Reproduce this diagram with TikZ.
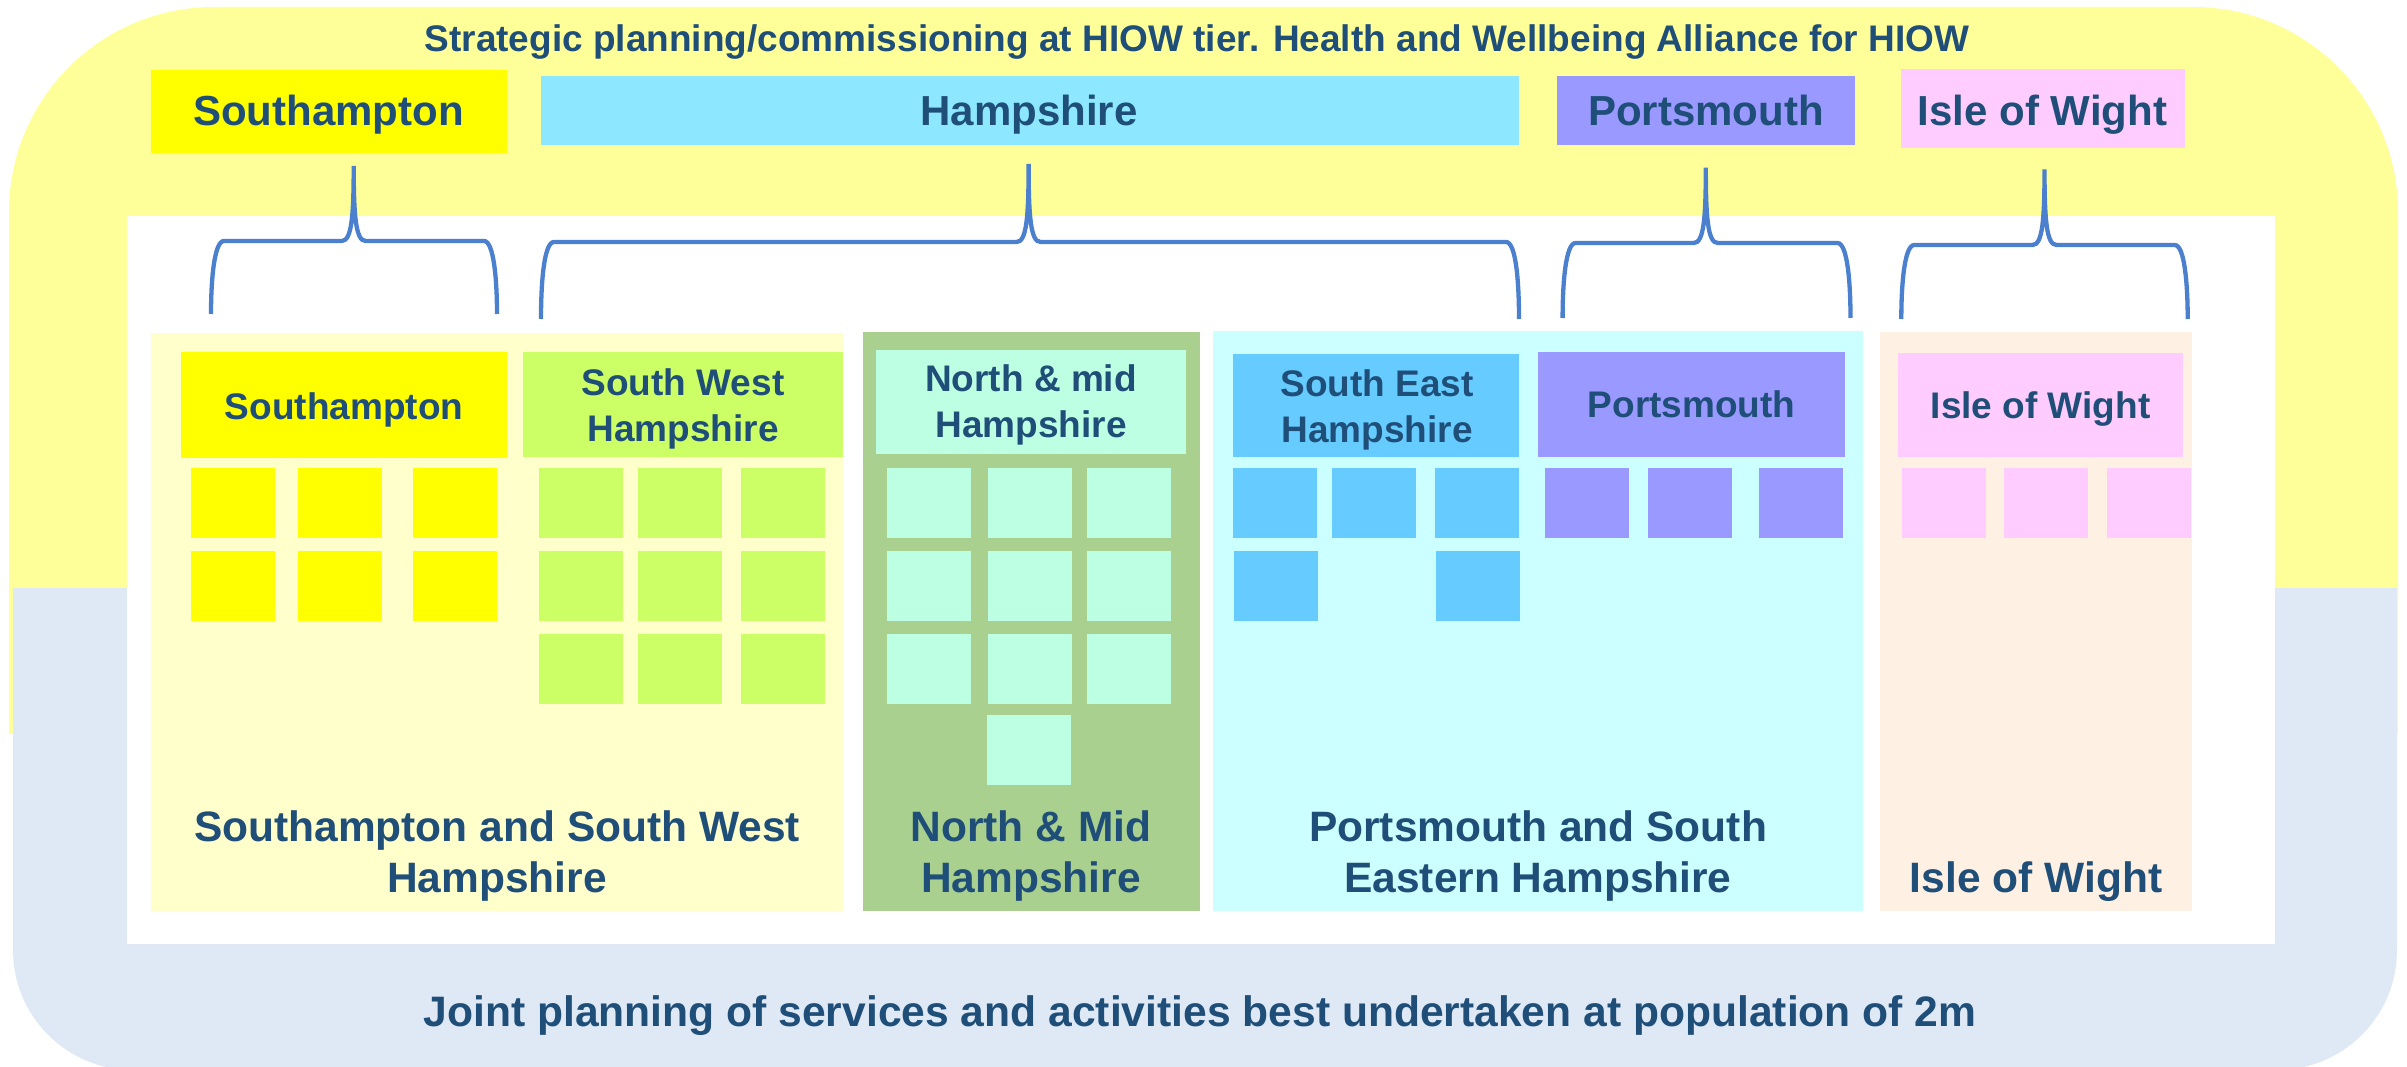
\documentclass[tikz,border=0pt]{standalone}
\usepackage{fontspec}
\setmainfont{Liberation Sans}
\definecolor{ybg}{HTML}{FFFF99}
\definecolor{bbg}{HTML}{DEE9F5}
\definecolor{txt}{HTML}{1F4E79}
\definecolor{brc}{HTML}{4A80CD}
\definecolor{cSo}{HTML}{FFFF00}
\definecolor{cHa}{HTML}{8DE7FF}
\definecolor{cPo}{HTML}{9999FF}
\definecolor{cIw}{HTML}{FFCCFF}
\definecolor{pSo}{HTML}{FFFFCC}
\definecolor{pNm}{HTML}{A9D08E}
\definecolor{pPo}{HTML}{CCFFFF}
\definecolor{pIw}{HTML}{FEF0E2}
\definecolor{cSw}{HTML}{CCFF66}
\definecolor{cNm}{HTML}{BDFFE3}
\definecolor{cSe}{HTML}{66CCFF}
\tikzset{
  box/.style={rectangle,inner sep=0pt,outer sep=0pt,draw=none},
  lab/.style={text=txt,anchor=base,align=center,inner sep=0pt},
  titlelab/.style={lab,font=\fontsize{37}{45}\selectfont\bfseries},
  toplab/.style={lab,font=\fontsize{42}{50}\selectfont\bfseries},
  sublab/.style={lab,font=\fontsize{37}{45.5}\selectfont\bfseries},
  panlab/.style={lab,font=\fontsize{42.5}{51}\selectfont\bfseries},
  bracestyle/.style={draw=brc,line width=4.3pt},
}
\newcommand{\boxnode}[6]{\node[box,fill=#2,minimum width={#5-#3},minimum height={#6-#4}] (#1) at ({(#3+#5)/2},{(#4+#6)/2}) {};}
\newcommand{\bracepath}[6]{% xl xr xt yh ytip ybot
  \draw[bracestyle] (#1,#6) .. controls (#1,#4+40) and (#1+3,#4) .. (#1+13,#4) -- (#3-12,#4)
    .. controls (#3-2,#4) and (#3,#4-25) .. (#3,#5)
    .. controls (#3,#4-25) and (#3+2,#4) .. (#3+12,#4) -- (#2-13,#4)
    .. controls (#2-3,#4) and (#2,#4+40) .. (#2,#6);}
\newcommand{\sqs}[3]{% color, y top, list of x
  \foreach \xx in {#3} {\fill[#1] (\xx,#2) rectangle ++(84,70);}}
\begin{document}
\begin{tikzpicture}[x=1pt,y=-1pt]
\useasboundingbox (0,0) rectangle (2407,1067);
% backgrounds
\begin{scope}
  \clip (0,0) rectangle (2407,733);
  \fill[ybg,rounded corners=205pt] (9,7) rectangle (2398,1000);
\end{scope}
\begin{scope}
  \clip (0,588) rectangle (2407,1067);
  \fill[bbg,rounded corners=120pt] (13,300) rectangle (2397,1070);
\end{scope}
\fill[white] (127,216) rectangle (2275,944);
% panels
\boxnode{panSo}{pSo}{151}{333}{843}{911}
\boxnode{panNm}{pNm}{863}{332}{1200}{911}
\boxnode{panPo}{pPo}{1213}{331}{1863}{911}
\boxnode{panIw}{pIw}{1880}{332}{2192}{911}
% top boxes
\boxnode{topSo}{cSo}{151}{70}{507}{153.5}
\boxnode{topHa}{cHa}{541}{76}{1519}{145}
\boxnode{topPo}{cPo}{1557}{76}{1855}{145}
\boxnode{topIw}{cIw}{1901}{69}{2185}{148}
% sub boxes
\boxnode{subSo}{cSo}{181}{352}{507}{458}
\boxnode{subSw}{cSw}{523}{352}{843}{456.5}
\boxnode{subNm}{cNm}{876}{350}{1186}{454}
\boxnode{subSe}{cSe}{1233}{354}{1519}{456.5}
\boxnode{subPo}{cPo}{1538}{352}{1845}{456.5}
\boxnode{subIw}{cIw}{1898}{353}{2183}{456.5}
% squares
\sqs{cSo}{468}{191,298,413}
\sqs{cSo}{551}{191,298,413}
\sqs{cSw}{468}{539,638,741}
\sqs{cSw}{551}{539,638,741}
\sqs{cSw}{634}{539,638,741}
\sqs{cNm}{468}{887,988,1087}
\sqs{cNm}{551}{887,988,1087}
\sqs{cNm}{634}{887,988,1087}
\sqs{cNm}{715}{987}
\sqs{cSe}{468}{1233,1332,1435}
\sqs{cSe}{551}{1234,1436}
\sqs{cPo}{468}{1545,1648,1759}
\sqs{cIw}{468}{1902,2004,2107}
% braces
\bracepath{211}{497}{353.7}{241}{166}{314}
\bracepath{541}{1519}{1028.6}{242}{164}{319}
\bracepath{1562.6}{1850.5}{1705.8}{243}{167.6}{318}
\bracepath{1901.3}{2187.7}{2044.5}{245}{169.5}{319}
% texts (multi-line nodes: base anchor is the last line's baseline)
\node[titlelab] (title) at (1197,52) {Strategic planning/commissioning at HIOW tier. Health and Wellbeing Alliance for HIOW};
\node[toplab] (tSo) at (328.5,126) {Southampton};
\node[toplab] (tHa) at (1029,126) {Hampshire};
\node[toplab] (tPo) at (1706,126) {Portsmouth};
\node[toplab] (tIw) at (2042.5,126) {Isle of Wight};
\node[sublab] (sSo) at (344,419) {Southampton};
\node[sublab] (sSw) at (683,441) {South West\\Hampshire};
\node[sublab] (sNm) at (1031,437) {North \& mid\\Hampshire};
\node[sublab] (sSe) at (1377,442) {South East\\Hampshire};
\node[sublab] (sPo) at (1691.5,417) {Portsmouth};
\node[sublab] (sIw) at (2040.5,418) {Isle of Wight};
\node[panlab] (lSo) at (497,892) {Southampton and South West\\Hampshire};
\node[panlab] (lNm) at (1031,892) {North \& Mid\\Hampshire};
\node[panlab] (lPo) at (1538,892) {Portsmouth and South\\Eastern Hampshire};
\node[panlab] (lIw) at (2036,892) {Isle of Wight};
\node[lab,font=\fontsize{42.6}{51}\selectfont\bfseries] (bottom) at (1200,1026) {Joint planning of services and activities best undertaken at population of 2m};
\end{tikzpicture}
\end{document}
